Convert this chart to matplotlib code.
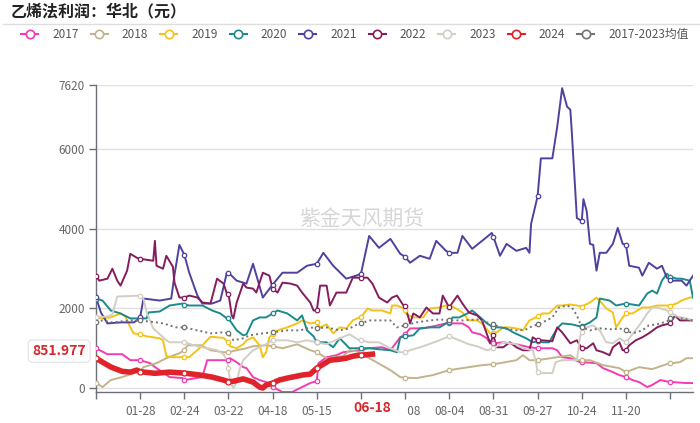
import matplotlib
matplotlib.use('Agg')
import matplotlib.pyplot as plt
import matplotlib.transforms as mtransforms
from matplotlib.patches import Rectangle
import numpy as np
import pandas as pd
from matplotlib.lines import Line2D

plt.rcParams['font.family'] = ['Noto Sans CJK SC', 'DejaVu Sans']

# ---------------- data (day index within year, value) ----------------
dates = pd.date_range('2024-01-01', '2024-12-31').strftime('%m-%d')

d2017 = [0,7,16,21,27,33,37,45,53,54,65,68,78,81,82,86,90,92,96,100,104,108,114,120,126,131,135,136,141,147,151,161,162,166,175,180,186,189,192,200,206,214,216,224,228,230,235,239,241,243,249,257,265,270,273,279,282,285,290,296,297,306,310,316,320,324,328,332,337,340,345,351,352,361,365]
v2017 = [1000,850,850,700,700,625,500,275,250,200,275,700,700,700,750,650,525,500,275,200,150,25,-100,-100,25,125,175,625,775,825,900,950,950,1000,1025,950,1275,1350,1500,1500,1550,1625,1625,1625,1525,1400,1350,1250,1125,1125,1150,1100,1025,1000,1000,1000,950,775,750,650,650,625,500,400,325,275,200,150,25,75,200,150,150,125,125]

d2018 = [0,4,9,16,25,27,29,37,43,51,54,56,64,70,78,81,86,92,96,104,108,114,123,131,135,141,151,155,162,166,180,186,189,196,206,216,236,243,247,257,261,265,270,282,290,294,297,302,310,320,324,332,340,349,351,357,361,365]
v2018 = [125,25,200,275,400,420,525,625,750,875,950,1075,1075,950,900,900,950,1000,1050,1075,1050,1000,1100,950,900,750,800,950,900,775,450,275,260,250,325,450,575,600,625,700,825,700,700,775,825,700,700,700,575,500,400,525,475,600,620,650,750,750]

d2019 = [0,4,9,15,18,21,23,27,31,39,41,43,47,54,57,64,70,78,81,82,86,90,92,96,100,102,104,106,108,111,117,123,126,131,135,137,141,145,149,153,157,161,162,166,169,175,180,181,184,188,189,190,194,200,204,210,214,216,218,224,228,233,236,241,243,245,249,253,257,261,265,269,270,273,277,282,285,290,294,297,302,306,310,312,316,318,322,324,328,334,338,343,346,351,355,358,363,365]
v2019 = [1775,1750,1775,1875,1800,1525,1375,1350,1300,1250,1200,800,775,775,775,1030,1290,1260,1150,1050,1000,1100,1200,1275,1075,775,900,1275,1350,1450,1525,1625,1700,1625,1650,1525,1600,1375,1525,1500,1700,1775,1775,2000,1950,1950,1875,2075,2075,2000,1950,1850,1775,1775,2000,2025,2075,2050,2050,1900,1700,1700,1625,1375,1375,1400,1525,1525,1500,1450,1700,1775,1800,1875,1875,2075,2075,2100,2075,2050,2150,2275,2100,2000,1900,1525,1775,1875,1875,2025,2025,2075,2075,2075,2125,2200,2275,2275]

d2020 = [0,4,9,15,21,27,31,32,39,45,53,54,57,65,71,76,80,81,86,90,92,96,100,104,108,111,117,123,126,129,133,135,141,145,149,155,162,167,173,180,184,186,189,194,198,204,210,214,216,218,222,227,230,235,239,243,247,251,255,259,263,267,270,273,277,282,285,291,296,297,302,306,308,314,318,324,328,332,337,340,343,346,349,351,355,358,363,365]
v2020 = [2250,2200,1950,1875,1750,1750,1750,1900,1925,2075,2125,2100,2075,2075,1950,1875,1750,1750,1450,1325,1350,1700,1775,1775,1875,1950,1875,1700,1825,1450,1300,1150,1150,1025,1250,1000,1000,1000,975,950,900,1275,1300,1325,1500,1525,1525,1625,1650,1775,1775,1875,1950,1775,1625,1525,1525,1500,1400,1325,1250,1150,1175,1150,1150,1500,1625,1600,1550,1550,1650,1775,2250,2200,2075,2125,2100,2075,2375,2450,2375,2700,2875,2800,2750,2750,2700,2275]

d2021 = [0,3,7,15,23,25,27,29,39,46,48,51,54,57,62,65,71,76,80,81,86,92,96,102,108,114,123,129,135,139,145,153,159,162,167,173,180,186,189,192,198,204,208,214,216,221,224,230,236,242,243,247,251,257,263,265,266,270,272,279,282,285,288,290,291,294,297,298,300,302,304,306,308,312,316,319,322,324,326,332,334,338,343,346,349,351,352,358,361,365]
v2021 = [2280,1900,1625,1650,1650,1700,1775,2250,2200,2250,2850,3600,3350,2900,2325,2125,2125,2200,2900,2900,2700,2625,3125,2275,2600,2900,2900,3075,3125,3400,3075,2750,2825,2875,3825,3525,3750,3375,3300,3150,3325,3250,3700,3450,3400,3400,3825,3500,3700,3900,3800,3325,3625,3450,3525,3400,4125,4825,5775,5775,6575,7540,7075,7000,6375,4275,4200,4750,4450,3625,3600,2950,3400,3400,3625,4025,3625,3600,3075,3025,2825,3150,3000,3075,2775,2725,2700,2700,2575,2825]

d2022 = [0,2,7,10,13,15,19,21,25,27,35,36,37,41,43,47,48,51,54,57,62,65,70,74,78,80,81,83,84,86,90,92,96,98,102,106,108,111,114,119,123,126,131,133,135,137,141,143,147,153,157,162,166,169,173,178,181,184,188,189,192,194,198,202,206,210,212,216,218,221,224,228,233,236,241,243,245,249,253,257,261,265,267,270,273,279,282,285,290,294,297,300,304,306,310,314,316,320,322,324,326,330,334,338,343,346,351,354,357,365]
v2022 = [2825,2700,2750,3000,2700,2575,2950,3375,3275,3250,3200,3700,3075,3000,3325,3050,2650,2275,2275,2325,2275,2150,2125,2750,2625,2375,2375,1825,1750,2150,2625,2525,2500,2400,2900,2825,2500,2400,2650,2625,2575,2400,2150,1950,1950,2575,2575,2075,2400,2400,2775,2775,2775,2625,2275,2150,2275,2325,2075,2075,1625,1875,1775,2025,1875,1875,2325,2025,2150,2325,2125,1900,1825,1700,1125,1325,1025,1025,1150,1025,950,950,1275,1200,1200,1175,1525,1400,1125,1200,1000,1000,1125,950,900,825,1025,1150,950,950,1075,1200,1275,1375,1525,1575,1625,1825,1700,1700]

d2023 = [0,7,10,13,27,29,31,35,39,43,45,53,54,62,68,74,78,80,81,82,84,86,88,90,96,104,108,117,123,129,135,141,149,155,161,162,167,173,180,186,189,192,200,210,216,222,228,233,239,243,249,257,261,267,269,270,271,279,281,285,290,294,296,297,300,304,308,312,316,320,324,328,333,337,340,343,349,351,355,361,365]
v2023 = [1775,1800,1850,2300,2325,2250,1900,1500,1350,1200,1150,1150,1150,1050,1000,950,850,700,500,150,0,150,500,700,950,1100,1200,1200,1150,1200,1150,1100,1250,1350,1200,1200,1150,1150,1000,900,900,950,1050,1200,1300,1200,1100,1050,950,1000,1150,1100,1000,950,650,400,375,375,650,700,700,700,1300,1400,1525,1575,1450,1150,1125,1250,1150,1350,1625,1875,2025,2025,1950,1900,1800,1750,1700]

d2024 = [0,4,9,16,21,25,27,36,45,54,63,71,78,81,84,90,96,100,102,104,108,112,117,120,126,131,135,139,143,149,153,157,161,162,166,169]
v2024 = [750,650,530,420,400,450,410,370,400,375,330,275,200,160,170,230,150,25,0,75,125,200,250,275,325,350,500,600,700,725,750,800,825,825,840,851.977]

d_avg = [0,4,10,21,27,37,41,49,54,62,70,78,81,84,90,94,102,108,117,125,131,135,141,149,155,161,162,167,175,180,184,189,196,204,210,216,224,233,241,243,249,257,263,265,270,273,279,283,288,291,294,296,297,302,308,316,320,324,328,334,338,343,349,351,355,361,365]
v_avg = [1650,1700,1650,1700,1700,1650,1625,1525,1525,1450,1375,1400,1375,1200,1250,1325,1375,1400,1450,1450,1525,1500,1525,1450,1500,1625,1625,1700,1700,1700,1525,1575,1650,1700,1725,1700,1700,1725,1625,1600,1500,1450,1475,1525,1600,1650,1775,2025,2075,2025,1825,1625,1525,1450,1500,1475,1500,1450,1375,1450,1575,1600,1675,1750,1775,1725,1700]

names = ['2017', '2018', '2019', '2020', '2021', '2022', '2023', '2024', '2017-2023均值']
colors = ['#f23cb2', '#c2b48a', '#f5c315', '#1b8a8c', '#4f429f', '#861c5e', '#d3cec5', '#e0232b', '#737373']
all_days = [d2017, d2018, d2019, d2020, d2021, d2022, d2023, d2024, d_avg]
all_vals = [v2017, v2018, v2019, v2020, v2021, v2022, v2023, v2024, v_avg]

ytick_vals = [0, 2000, 4000, 6000, 7620]
label_step = 27
current_day = 169
current_value = 851.977

# ---------------- figure ----------------
W, H = 700, 423
fig = plt.figure(figsize=(W / 100, H / 100), dpi=100)
ax = fig.add_axes([96 / W, 31 / H, 597 / W, 307 / H])

for name, c, d, v in zip(names, colors, all_days, all_vals):
    d = np.array(d)
    v = np.array(v, dtype=float)
    is24 = name == '2024'
    isavg = name.endswith('均值')
    lw = 4.0 if is24 else 1.4
    ls = (0, (1, 1.6)) if isavg else '-'
    ax.plot(d, v, color=c, lw=lw, ls=ls, solid_joinstyle='round', zorder=3 + (2 if is24 else 0))
    m = d % label_step == 0
    ax.plot(d[m], v[m], 'o', mfc='white', mec=c, ms=3.6 if is24 else 3.2,
            mew=0.9, zorder=4 + (2 if is24 else 0))

ax.set_xlim(0, 365)
ax.set_ylim(-100, 7620)

ax.set_yticks(ytick_vals)
ax.set_yticklabels([str(t) for t in ytick_vals])
ax.yaxis.grid(True, color='#e0e0e0', lw=1)
ax.set_axisbelow(True)

xt = list(range(0, 366, label_step))
xl = ['' if (t == 0 or t == 162 or t == 351) else dates[t] for t in xt]
ax.set_xticks(xt)
ax.set_xticklabels(xl)

for s in ['top', 'right']:
    ax.spines[s].set_visible(False)
for s in ['left', 'bottom']:
    ax.spines[s].set_color('#6e7079')
    ax.spines[s].set_linewidth(1)
ax.tick_params(axis='both', colors='#6e7079', labelcolor='#666666', labelsize=8.5, length=5, width=1)
ax.tick_params(axis='x', pad=4)
ax.tick_params(axis='y', pad=3)

# white strip under the axis where the current-date label sits (hides "07-")
btrans = mtransforms.blended_transform_factory(ax.transData, ax.transAxes)
ax.add_patch(Rectangle((148, -0.095), 42.2, 0.06, transform=btrans, fc='white',
                       ec='none', clip_on=False, zorder=9))

# current date label on x axis
ax.annotate(dates[current_day], xy=(current_day, 0), xycoords=('data', 'axes fraction'),
            xytext=(0, -16), textcoords='offset pixels', ha='center', va='center',
            color='#d9262c', fontsize=10, fontweight='bold',
            annotation_clip=False, zorder=10)

# current value label on y axis
ax.annotate(f'{current_value:.3f}', xy=(0, current_value), xycoords=('axes fraction', 'data'),
            xytext=(-10, 3), textcoords='offset pixels', ha='right', va='center',
            color='#d9262c', fontsize=10, fontweight='bold',
            bbox=dict(boxstyle='round,pad=0.3', fc='white', ec='#e2e2e2', lw=0.8),
            annotation_clip=False, zorder=10)

# watermark
fig.text(362 / W, 1 - 219 / H, '紫金天风期货', ha='center', va='center',
         fontsize=15, color='#cccccc', alpha=0.8, zorder=1)

# title
fig.text(11 / W, 1 - 11 / H, '乙烯法利润：华北（元）', ha='left', va='center',
         fontsize=11.5, fontweight='bold', color='#222222')
fig.add_artist(Line2D([3 / W, 1], [1 - 24.5 / H] * 2, color='#dddddd', lw=1,
                      transform=fig.transFigure))

# legend (manual)
ly = 1 - 34.5 / H
for i, (name, c) in enumerate(zip(names, colors)):
    x0 = 21 + 69.5 * i
    fig.add_artist(Line2D([x0 / W, (x0 + 17) / W], [ly, ly], color=c, lw=1.5,
                          transform=fig.transFigure))
    fig.add_artist(Line2D([(x0 + 8.5) / W], [ly], marker='o', ms=6, mfc='white',
                          mec=c, mew=1.2, transform=fig.transFigure))
    fig.text((x0 + 31) / W, ly, name, ha='left', va='center', fontsize=8.5, color='#555555')

fig.savefig('out.png', dpi=100)
